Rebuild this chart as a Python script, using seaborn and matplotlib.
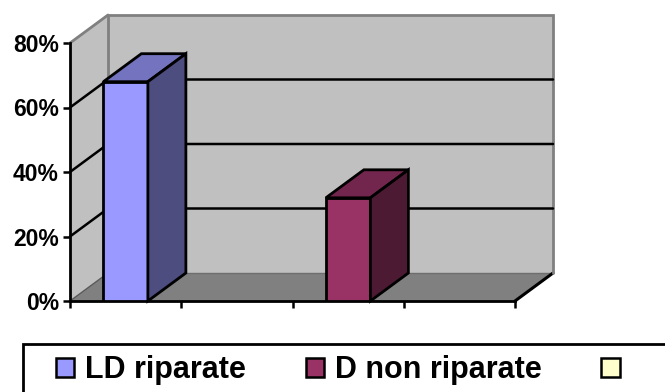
import matplotlib
matplotlib.use("Agg")
import matplotlib.pyplot as plt
from matplotlib.patches import Polygon, Rectangle, Patch
import numpy as np
import pandas as pd
import seaborn as sns

# Category slots along the floor (the axis carries no category labels)
slots = ["1", "2", "3", "4"]

# One bar per series
series_names = ["LD riparate", "D non riparate", ""]
series_slots = ["1", "3", None]
series_values = [68, 32, None]
series_colors = ["#9999FF", "#993366", "#FFFFCC"]

y_ticks = [0, 20, 40, 60, 80]
y_tick_labels = ["0%", "20%", "40%", "60%", "80%"]

W, H, DPI = 665, 392, 100

sns.set_theme(style="white")
plt.rcParams["font.family"] = ["Liberation Sans", "DejaVu Sans"]
plt.rcParams["font.weight"] = "bold"
plt.rcParams["text.color"] = "black"

fig = plt.figure(figsize=(W / DPI, H / DPI), dpi=DPI)
fig.patch.set_facecolor("white")
ax = fig.add_axes([70 / W, (H - 301) / H, 445 / W, 258 / H])
ax.set_facecolor("none")

rows = [(s, v, n) for s, v, n in zip(series_slots, series_values, series_names) if s is not None]
df = pd.DataFrame(rows, columns=["slot", "value", "series"])
palette = {n: c for n, c in zip(series_names, series_colors)}

sns.barplot(data=df, x="slot", y="value", hue="series", order=slots,
            hue_order=[r[2] for r in rows], palette=palette, dodge=False,
            width=0.4, saturation=1, edgecolor="black", linewidth=2,
            legend=False, ax=ax, zorder=5)

xl, xr = -0.5, len(slots) - 0.5
ymax = y_ticks[-1]
ax.set_xlim(xl, xr)
ax.set_ylim(0, ymax)

# depth of the 3-D box, given in pixels and converted to data units
inv = ax.transData.inverted()
o = inv.transform((0, 0))
d = inv.transform((38, 28))
ddx, ddy = d[0] - o[0], d[1] - o[1]

wall = "#C0C0C0"
edge_gray = "#808080"

# back wall
ax.add_patch(Rectangle((xl + ddx, ddy), xr - xl, ymax, fc=wall, ec="none",
                       zorder=0.5, clip_on=False))
ax.plot([xl + ddx, xl + ddx, xr + ddx, xr + ddx],
        [ddy, ymax + ddy, ymax + ddy, ddy], color=edge_gray, lw=2,
        zorder=0.9, clip_on=False, solid_joinstyle="miter")
# left wall
ax.add_patch(Polygon([(xl, 0), (xl + ddx, ddy), (xl + ddx, ymax + ddy), (xl, ymax)],
                     closed=True, fc=wall, ec="none", zorder=0.5, clip_on=False))
ax.plot([xl, xl + ddx], [ymax, ymax + ddy], color=edge_gray, lw=2,
        zorder=0.9, clip_on=False)
# floor
ax.add_patch(Polygon([(xl, 0), (xr, 0), (xr + ddx, ddy), (xl + ddx, ddy)],
                     closed=True, fc="#808080", ec="none", zorder=0.6, clip_on=False))
ax.plot([xl + ddx, xr + ddx], [ddy, ddy], color="#6E6E6E", lw=1, zorder=0.7, clip_on=False)
ax.plot([xl, xl + ddx], [0, ddy], color="#5A5A5A", lw=1, zorder=0.8, clip_on=False)
ax.plot([xr, xr + ddx], [0, ddy], color="black", lw=2.2, zorder=0.8, clip_on=False)

# gridlines across the left wall and back wall
for v in y_ticks[1:-1]:
    ax.plot([xl, xl + ddx, xr + ddx], [v, v + ddy, v + ddy], color="black",
            lw=1.8, zorder=1, clip_on=False)

# top and side faces of each bar
for p in list(ax.patches):
    if not isinstance(p, Rectangle) or p.get_zorder() != 5:
        continue
    x0, w, h = p.get_x(), p.get_width(), p.get_height()
    base = np.array(p.get_facecolor()[:3])
    top = [(x0, h), (x0 + w, h), (x0 + w + ddx, h + ddy), (x0 + ddx, h + ddy)]
    side = [(x0 + w, 0), (x0 + w + ddx, ddy), (x0 + w + ddx, h + ddy), (x0 + w, h)]
    ax.add_patch(Polygon(top, closed=True, fc=base * 0.75, ec="black", lw=2,
                         zorder=5, clip_on=False, joinstyle="miter"))
    ax.add_patch(Polygon(side, closed=True, fc=base * 0.5, ec="black", lw=2,
                         zorder=5, clip_on=False, joinstyle="miter"))

# axes: front value axis and category axis
sns.despine(ax=ax)
for s in ("left", "bottom"):
    ax.spines[s].set_color("black")
    ax.spines[s].set_linewidth(2)
    ax.spines[s].set_zorder(4)
ax.set_yticks(y_ticks, labels=y_tick_labels)
ax.set_xticks(np.arange(len(slots) + 1) - 0.5, labels=[""] * (len(slots) + 1))
ax.set_xlabel("")
ax.set_ylabel("")
ax.tick_params(axis="both", which="major", bottom=True, left=True,
               direction="out", length=5, width=1.8, color="black",
               labelsize=16.5, pad=3, labelcolor="black")
for t in ax.get_yticklabels():
    t.set_fontweight("bold")

# legend with its frame running off the figure edge
fig.add_artist(Rectangle((23 / W, -0.2), 1.0, (H - 344) / H + 0.2,
                         transform=fig.transFigure, fill=False, ec="black", lw=2))
handles = [Patch(fc=c, ec="black", lw=1.8) for c in series_colors]
fig.legend(handles, series_names, loc="center left",
           bbox_to_anchor=(56 / W, (H - 370) / H), frameon=False, ncol=3,
           handlelength=0.6, handleheight=0.6, handletextpad=0.36,
           columnspacing=1.95, borderpad=0, borderaxespad=0,
           prop=dict(family=["Liberation Sans", "DejaVu Sans"], weight="bold", size=22),
           labelcolor="black")

fig.savefig("out.png", dpi=DPI)
